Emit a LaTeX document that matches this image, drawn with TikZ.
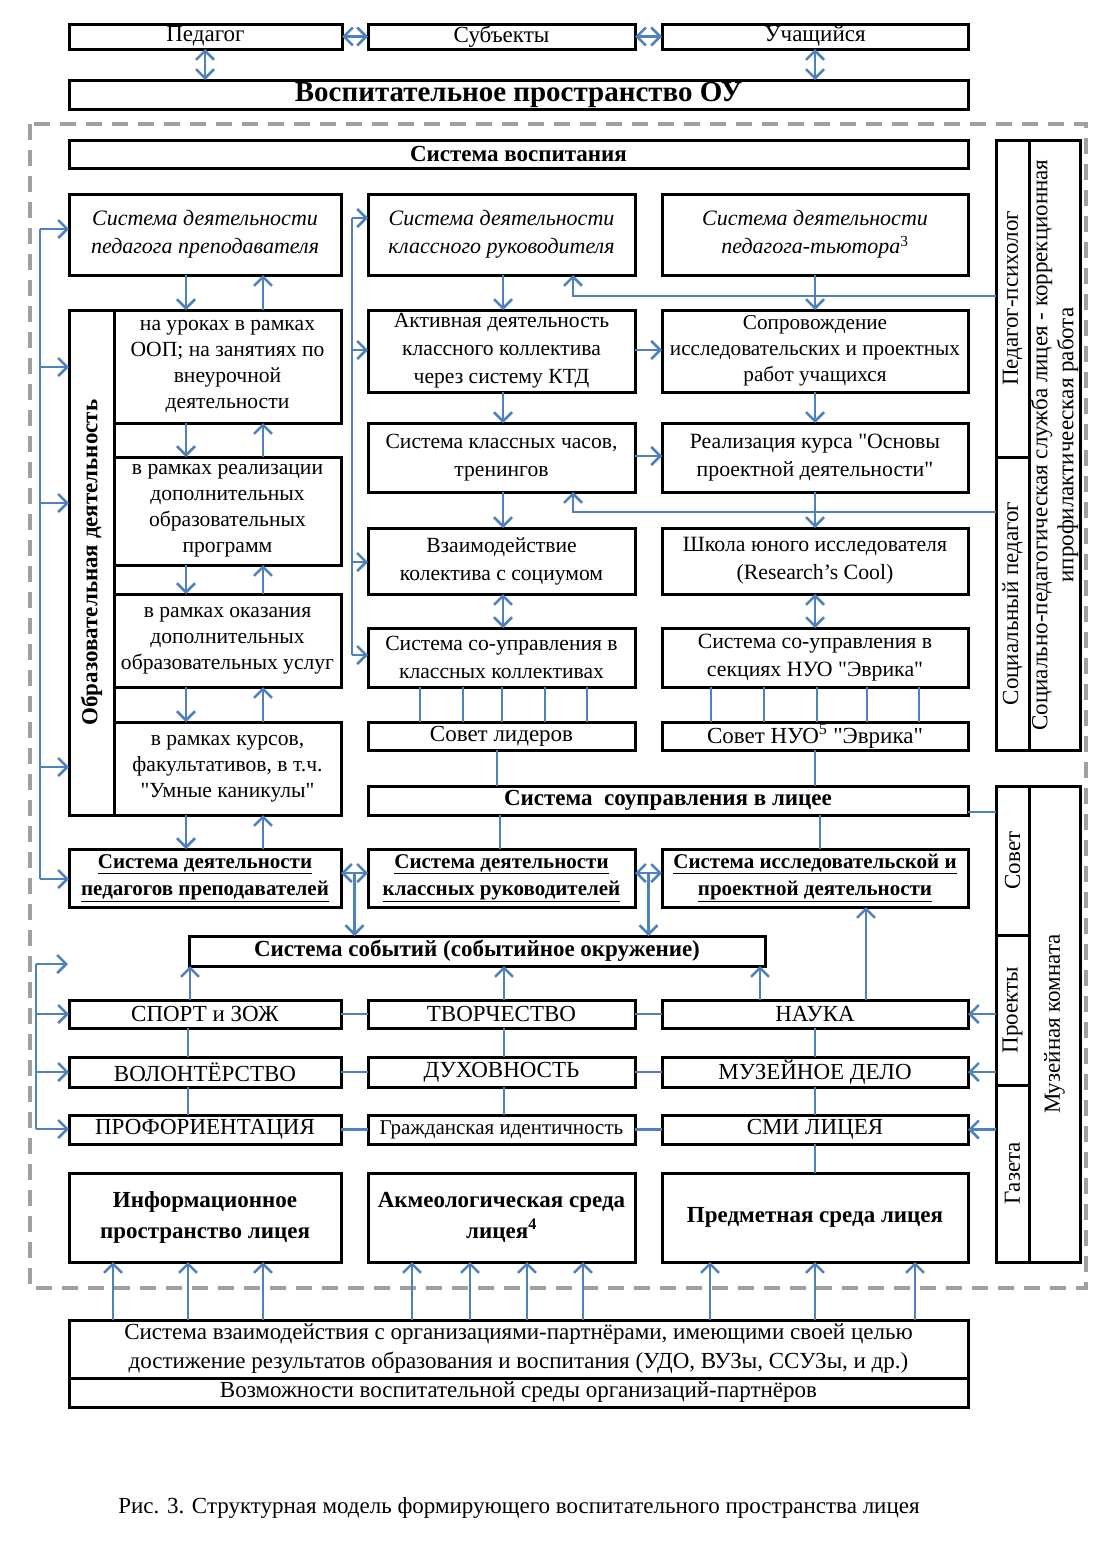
\documentclass[tikz,border=0pt]{standalone}
\usepackage{fontspec}
\setmainfont{Liberation Serif}
\usetikzlibrary{arrows.meta,calc}
\definecolor{cblue}{HTML}{4F81BD}
\definecolor{dgray}{HTML}{A0A0A0}
\newcommand\myfs[2]{\fontsize{#1}{#2}\selectfont}
\newcommand\qq{\textquotedbl}
\tikzset{
 box/.style={draw=black, line width=3pt, inner sep=0pt, outer sep=0pt, align=center, font=\myfs{21.6}{26}},
 conn/.style={draw=cblue, line width=2.5pt},
 thinconn/.style={draw=cblue, line width=2pt},
 frame/.style={draw=dgray, line width=4pt, dash pattern=on 16pt off 10pt},
 bfbox/.style={font=\bfseries\myfs{23}{27}},
 itbox/.style={font=\itshape\myfs{22}{28}},
 onebox/.style={font=\myfs{23}{26}},
 sidebox/.style={font=\myfs{23}{26}},
 >={Straight Barb[length=9pt,width=18pt]},
}
\newcommand\mybox[7][]{\node[box,#1,minimum width={#5-#3},minimum height={#6-#4}] (#2) at ({(#3+#5)/2},{(#4+#6)/2}) {#7};}
\newcommand\myrbox[7][]{\node[box,rotate=90,#1,minimum width={#6-#4},minimum height={#5-#3}] (#2) at ({(#3+#5)/2},{(#4+#6)/2}) {#7};}
\begin{document}
\begin{tikzpicture}[x=1pt,y=-1pt]
\useasboundingbox (0,0) rectangle (1103,1542);
\draw[frame] (30,124) rectangle (1086,1288);

% top
\mybox[onebox]{P1}{69}{24}{342}{49}{Педагог}
\mybox[onebox]{P2}{368}{24}{635}{49}{Субъекты}
\mybox[onebox]{P3}{662}{24}{968}{49}{Учащийся}
\mybox[font=\bfseries\myfs{29}{32},text height=20pt,text depth=6pt]{OU}{69}{80}{968}{109}{Воспитательное пространство ОУ}
\draw[conn,<->] (P1.east) -- (P2.west);
\draw[conn,<->] (P2.east) -- (P3.west);
\draw[conn,<->] (P1.south -| 205,0) -- (OU.north -| 205,0);
\draw[conn,<->] (P3.south -| 815,0) -- (OU.north -| 815,0);

% system
\mybox[bfbox]{VOSP}{69}{140}{968}{168}{Система воспитания}
\mybox[itbox]{SD1}{69}{194}{341}{275}{Система деятельности\\педагога преподавателя}
\mybox[itbox]{SD2}{368}{194}{635}{275}{Система деятельности\\классного руководителя}
\mybox[itbox]{SD3}{662}{194}{968}{275}{Система деятельности\\педагога-тьютора\textsuperscript{\upshape 3}}

% right panel A
\myrbox[sidebox]{PP}{996}{140}{1029}{457}{Педагог-психолог}
\myrbox[sidebox]{SP}{996}{457}{1029}{750}{Социальный педагог}
\myrbox[sidebox]{SPS}{1029}{140}{1080}{750}{Социально-педагогическая служба лицея - коррекционная\\ипрофилактичееская работа}

% educational activity
\myrbox[font=\bfseries\myfs{23}{26}]{ODS}{69}{310}{114}{815}{Образовательная деятельность}
\mybox{OD1}{114}{310}{341}{423}{на уроках в рамках\\ООП; на занятиях по\\внеурочной\\деятельности}
\mybox{OD2}{114}{457}{341}{565}{в рамках реализации\\дополнительных\\образовательных\\программ}
\mybox{OD3}{114}{594}{341}{687}{в рамках оказания\\дополнительных\\образовательных услуг}
\mybox{OD4}{114}{722}{341}{815}{в рамках курсов,\\факультативов, в т.ч.\\\qq Умные каникулы\qq}

% middle column
\mybox[font=\myfs{21.6}{28}]{K1}{368}{310}{635}{392}{Активная деятельность\\классного коллектива\\через систему КТД}
\mybox[font=\myfs{21.6}{28}]{K2}{368}{423}{635}{492}{Система классных часов,\\тренингов}
\mybox[font=\myfs{21.6}{28}]{K3}{368}{528}{635}{594}{Взаимодействие\\колектива с социумом}
\mybox[font=\myfs{21.6}{28}]{K4}{368}{628}{635}{687}{Система со-управления в\\классных коллективах}
\mybox[onebox]{K5}{368}{722}{635}{750}{Совет лидеров}

% right column
\mybox[font=\myfs{21.2}{26}]{R1}{662}{310}{968}{392}{Сопровождение\\исследовательских и проектных\\работ учащихся}
\mybox[font=\myfs{21.8}{28}]{R2}{662}{423}{968}{492}{Реализация курса \qq Основы\\проектной деятельности\qq}
\mybox[font=\myfs{21.8}{28}]{R3}{662}{528}{968}{594}{Школа юного исследователя\\(Research's Cool)}
\mybox[font=\myfs{21.8}{28}]{R4}{662}{628}{968}{687}{Система со-управления в\\секциях НУО \qq Эврика\qq}
\mybox[onebox]{R5}{662}{722}{968}{750}{Совет НУО\textsuperscript{5} \qq Эврика\qq}

\mybox[bfbox]{SU}{368}{786}{968}{815}{Система\ \ соуправления в лицее}

% right panel B
\myrbox[sidebox]{SOV}{996}{786}{1029}{935}{Совет}
\myrbox[sidebox]{PRJ}{996}{935}{1029}{1085}{Проекты}
\myrbox[sidebox]{GAZ}{996}{1085}{1029}{1262}{Газета}
\myrbox[sidebox]{MUZK}{1029}{786}{1080}{1262}{Музейная комната}

% systems row
\mybox[font=\bfseries\myfs{21}{27}]{S1}{69}{849}{341}{907}{\underline{Система деятельности}\\\underline{педагогов преподавателей}}
\mybox[font=\bfseries\myfs{21}{27}]{S2}{368}{849}{635}{907}{\underline{Система деятельности}\\\underline{классных руководителей}}
\mybox[font=\bfseries\myfs{21}{27}]{S3}{662}{849}{968}{907}{\underline{Система исследовательской и}\\\underline{проектной деятельности}}

\mybox[bfbox]{SE}{189}{936}{765}{966}{Система событий (событийное окружение)}

% directions
\mybox[onebox]{SPORT}{69}{1000}{341}{1028}{СПОРТ и ЗОЖ}
\mybox[onebox]{TVOR}{368}{1000}{635}{1028}{ТВОРЧЕСТВО}
\mybox[onebox]{NAUKA}{662}{1000}{968}{1028}{НАУКА}
\mybox[onebox]{VOL}{69}{1057}{341}{1087}{ВОЛОНТЁРСТВО}
\mybox[onebox]{DUKH}{368}{1057}{635}{1087}{ДУХОВНОСТЬ}
\mybox[onebox]{MUZ}{662}{1057}{968}{1087}{МУЗЕЙНОЕ ДЕЛО}
\mybox[onebox]{PROF}{69}{1115}{341}{1144}{ПРОФОРИЕНТАЦИЯ}
\mybox[font=\myfs{21}{24}]{GRAZH}{368}{1115}{635}{1144}{Гражданская идентичность}
\mybox[onebox]{SMI}{662}{1115}{968}{1144}{СМИ ЛИЦЕЯ}

% environments
\mybox[font=\bfseries\myfs{23}{31}]{B1}{69}{1173}{341}{1262}{Информационное\\пространство лицея}
\mybox[font=\bfseries\myfs{23}{31}]{B2}{368}{1173}{635}{1262}{Акмеологическая среда\\лицея\textsuperscript{4}}
\mybox[font=\bfseries\myfs{23}{31}]{B3}{662}{1173}{968}{1262}{Предметная среда лицея}

% partners
\mybox[font=\myfs{23}{29}]{PB}{69}{1320}{968}{1378}{Система взаимодействия с организациями-партнёрами, имеющими своей целью\\достижение результатов образования и воспитания (УДО, ВУЗы, ССУЗы, и др.)}
\mybox[font=\myfs{23}{26}]{PB2}{69}{1378}{968}{1407}{Возможности воспитательной среды организаций-партнёров}

\node[font=\myfs{23}{26}, inner sep=0pt] (CAP) at (519,1508) {Рис. 3. Структурная модель формирующего воспитательного пространства лицея};

% ---------- connectors ----------
\foreach \a/\b in {SD1/OD1, OD1/OD2, OD2/OD3, OD3/OD4, OD4/S1}{
  \draw[conn,->] (\a.south -| 186,0) -- (\b.north -| 186,0);
  \draw[conn,->] (\b.north -| 263,0) -- (\a.south -| 263,0);
}
\foreach \a/\b in {SD2/K1, K1/K2, K2/K3}{
  \draw[conn,->] (\a.south -| 503,0) -- (\b.north -| 503,0);
}
\draw[conn,<->] (K3.south -| 503,0) -- (K4.north -| 503,0);
\foreach \a/\b in {SD3/R1, R1/R2, R2/R3}{
  \draw[conn,->] (\a.south -| 815,0) -- (\b.north -| 815,0);
}
\draw[conn,<->] (R3.south -| 815,0) -- (R4.north -| 815,0);
\draw[conn,->] (K1.east |- 0,350) -- (R1.west |- 0,350);
\draw[conn,->] (K2.east |- 0,456) -- (R2.west |- 0,456);
\draw[conn,->] (PP.north |- 0,296) -| (SD2.south -| 573,0);
\draw[conn,->] (SP.north |- 0,512) -| (K2.south -| 573,0);
\foreach \x in {420,463,502,545,587}{\draw[thinconn] (K4.south -| \x,0) -- (K5.north -| \x,0);}
\foreach \x in {711,764,817,867,919}{\draw[thinconn] (R4.south -| \x,0) -- (R5.north -| \x,0);}
\draw[conn] (K5.south -| 497,0) -- (SU.north -| 497,0);
\draw[conn] (R5.south -| 815,0) -- (SU.north -| 815,0);
\draw[conn] (SU.south -| 500,0) -- (S2.north -| 500,0);
\draw[conn] (SU.south -| 820,0) -- (S3.north -| 820,0);
\draw[conn] (SU.east |- 0,812) -- (SOV.north |- 0,812);
% left bus 1
\coordinate (L1t) at (40,229);
\coordinate (L1b) at (40,879);
\draw[conn] (L1t) -- (L1b);
\draw[conn,->] (L1t) -- (SD1.west |- L1t);
\draw[conn,->] (L1b) -- (S1.west |- L1b);
\foreach \y in {367,503,767}{\draw[conn,->] (L1t |- 0,\y) -- (ODS.north |- 0,\y);}
% middle bus
\coordinate (M1t) at (352,218);
\coordinate (M1b) at (352,655);
\draw[conn] (M1t) -- (M1b);
\draw[conn,->] (M1t) -- (SD2.west |- M1t);
\draw[conn,->] (M1t |- 0,350) -- (K1.west |- 0,350);
\draw[conn,->] (M1t |- 0,562) -- (K3.west |- 0,562);
\draw[conn,->] (M1b) -- (K4.west |- M1b);
% systems row
\coordinate (J1) at ($(S1.east)!.5!(S2.west)+(0,-5)$);
\coordinate (J2) at ($(S2.east)!.5!(S3.west)+(0,-5)$);
\draw[conn,<->] (S1.east |- J1) -- (S2.west |- J1);
\draw[conn,<->] (S2.east |- J2) -- (S3.west |- J2);
\draw[conn,->] (J1) -- (SE.north -| J1);
\draw[conn,->] (J2) -- (SE.north -| J2);
% left bus 2
\coordinate (L2t) at (36,964);
\coordinate (L2b) at (36,1129);
\coordinate (L2f) at (68,964);
\draw[conn] (L2t) -- (L2b);
\draw[conn,->] (L2t) -- (L2f);
\draw[conn,->] (L2t |- SPORT.west) -- (SPORT.west);
\draw[conn,->] (L2t |- VOL.west) -- (VOL.west);
\draw[conn,->] (L2b) -- (PROF.west |- L2b);
% directions grid
\draw[conn,->] (SPORT.north -| 190,0) -- (SE.south -| 190,0);
\draw[conn,->] (TVOR.north -| 504,0) -- (SE.south -| 504,0);
\draw[conn,->] (NAUKA.north -| 760,0) -- (SE.south -| 760,0);
\draw[conn,->] (NAUKA.north -| 866,0) -- (S3.south -| 866,0);
\foreach \a/\b in {SPORT/VOL, VOL/PROF}{\draw[conn] (\a.south -| 188,0) -- (\b.north -| 188,0);}
\foreach \a/\b in {TVOR/DUKH, DUKH/GRAZH}{\draw[conn] (\a.south -| 504,0) -- (\b.north -| 504,0);}
\foreach \a/\b in {NAUKA/MUZ, MUZ/SMI, SMI/B3}{\draw[conn] (\a.south -| 815,0) -- (\b.north -| 815,0);}
\foreach \a/\b in {SPORT/TVOR, TVOR/NAUKA, VOL/DUKH, DUKH/MUZ, PROF/GRAZH, GRAZH/SMI}{\draw[conn] (\a.east) -- (\b.west);}
\draw[conn,->] (PRJ.north |- NAUKA.east) -- (NAUKA.east);
\draw[conn,->] (PRJ.north |- MUZ.east) -- (MUZ.east);
\draw[conn,->] (GAZ.north |- SMI.east) -- (SMI.east);
% partners
\foreach \x in {113,188,263}{\draw[conn,->] (PB.north -| \x,0) -- (B1.south -| \x,0);}
\foreach \x in {412,470,527,583}{\draw[conn,->] (PB.north -| \x,0) -- (B2.south -| \x,0);}
\foreach \x in {710,815,915}{\draw[conn,->] (PB.north -| \x,0) -- (B3.south -| \x,0);}
\end{tikzpicture}
\end{document}
